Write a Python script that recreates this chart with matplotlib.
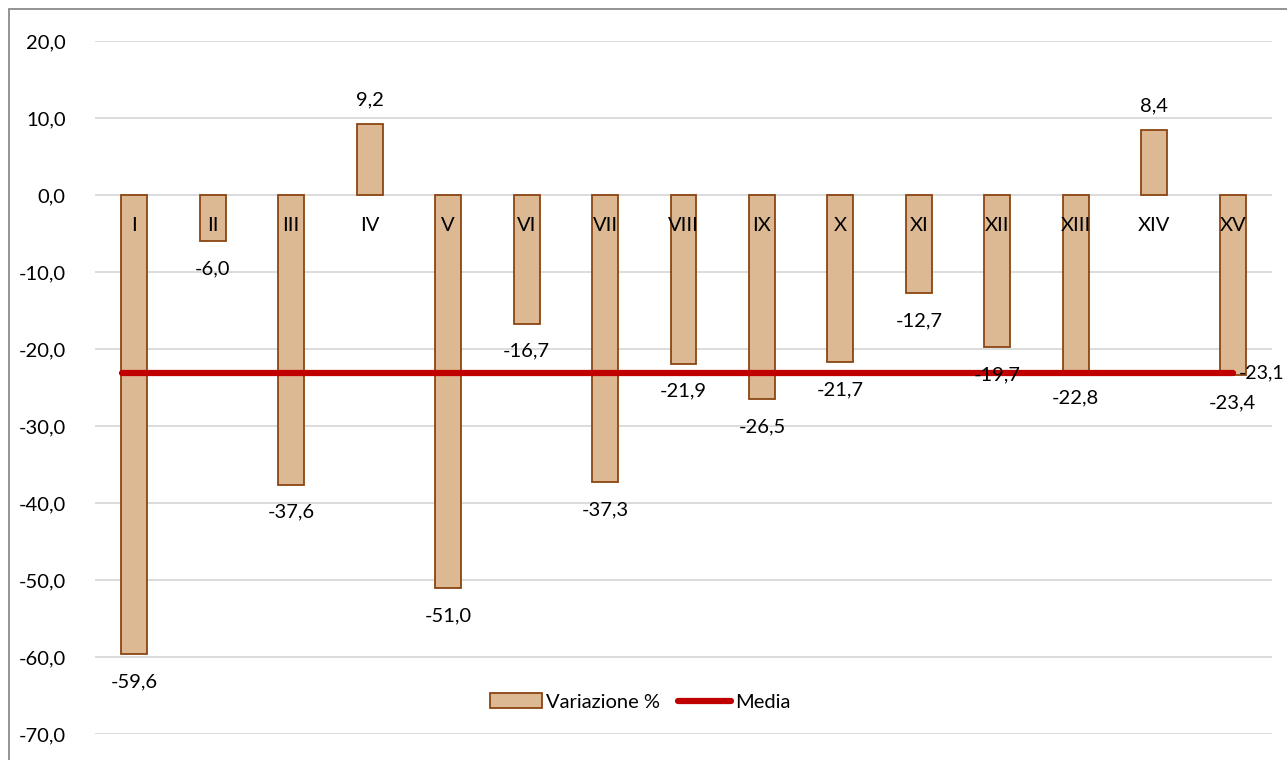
import numpy as np
import matplotlib.pyplot as plt
from matplotlib.patches import Patch, Rectangle
from matplotlib.lines import Line2D

plt.rcParams['font.family'] = ['Lato', 'DejaVu Sans']

categories = ['I', 'II', 'III', 'IV', 'V', 'VI', 'VII', 'VIII', 'IX', 'X',
              'XI', 'XII', 'XIII', 'XIV', 'XV']
variazione = [-59.6, -6.0, -37.6, 9.2, -51.0, -16.7, -37.3, -21.9, -26.5,
              -21.7, -12.7, -19.7, -22.8, 8.4, -23.4]
media = -23.1
yticks = [20, 10, 0, -10, -20, -30, -40, -50, -60, -70]

def fmt(v):
    return f'{v:.1f}'.replace('.', ',')

fs = 14.5
fig = plt.figure(figsize=(12.87, 7.6), dpi=100)
ax = fig.add_axes([95/1287, 26/760, (1272-95)/1287, (734-41)/760])

x = np.arange(len(categories))
bar_fill = '#DDB993'
bar_edge = '#8B4513'
ax.bar(x, variazione, width=0.33, color=bar_fill, edgecolor=bar_edge,
       linewidth=1.3, zorder=2)
ax.plot([x[0] - 0.15, x[-1]], [media, media], color='#C00000', lw=4.5,
        solid_capstyle='round', zorder=3)

for xi, v, c in zip(x, variazione, categories):
    if v >= 0:
        ax.text(xi, v + 3.2, fmt(v), ha='center', va='center', fontsize=fs)
    else:
        ax.text(xi, v - 3.6, fmt(v), ha='center', va='center', fontsize=fs)
    ax.text(xi, -3.9, c, ha='center', va='center', fontsize=fs, zorder=4)

# etichetta della media, a ridosso dell'ultima barra
ax.text(x[-1] + 0.08, media, fmt(media), ha='left', va='center',
        fontsize=14, zorder=5)

ax.set_xlim(-0.5, len(categories) - 0.5)
ax.set_ylim(-70, 20)
ax.set_yticks(yticks)
ax.set_yticklabels([fmt(t) for t in yticks], fontsize=fs)
ax.set_xticks([])
ax.tick_params(axis='y', length=0, pad=21)
ax.grid(axis='y', color='#D9D9D9', lw=1.3, zorder=0)
for s in ax.spines.values():
    s.set_visible(False)

handles = [Patch(facecolor=bar_fill, edgecolor=bar_edge, linewidth=1.3),
           Line2D([0], [0], color='#C00000', lw=4.5, solid_capstyle='round')]
fig.legend(handles, ['Variazione %', 'Media'], loc='center',
           bbox_to_anchor=(640/1287, 1 - 702/760), ncol=2, frameon=False,
           fontsize=fs, handlelength=2.6, handletextpad=0.2, columnspacing=0.9)

fig.add_artist(Rectangle((9/1287, -0.1), 1.2, (760-9)/760 + 0.1,
                         transform=fig.transFigure, fill=False,
                         edgecolor='#808080', lw=1.2))

fig.savefig('out.png', dpi=100)
